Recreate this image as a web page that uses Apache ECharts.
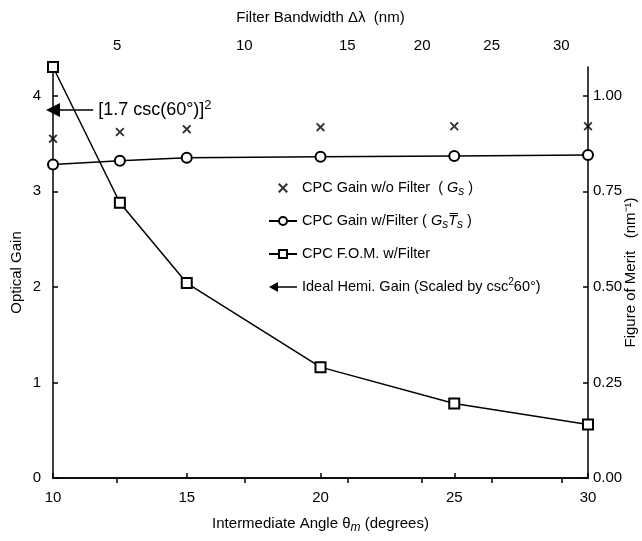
<!DOCTYPE html>
<html>
<head>
<meta charset="utf-8">
<script src="https://cdn.jsdelivr.net/npm/echarts@6/dist/echarts.min.js"></script>
<style>
html,body{margin:0;padding:0;background:#fff;}
#chart{width:642px;height:541px;}
</style>
</head>
<body>
<div id="chart"></div>
<script>
// ---- data ----
const angles = [10, 12.5, 15, 20, 25, 30];
const gainNoFilter = [3.55, 3.62, 3.65, 3.67, 3.68, 3.68];
const gainWithFilter = [3.28, 3.32, 3.35, 3.36, 3.37, 3.38];
const fomWithFilter = [1.075, 0.72, 0.51, 0.29, 0.195, 0.14];
const idealHemiGain = 3.85;
const idealArrowEndAngle = 11.5;
const topTickAngles = [12.4, 17.15, 21.0, 23.8, 26.4, 29.0];
const topTickLabels = ['5', '10', '15', '20', '25', '30'];
const seriesNames = ['CPC Gain w/o Filter', 'CPC Gain w/Filter', 'CPC F.O.M. w/Filter', 'Ideal Hemi. Gain'];
const legendLabels = [
  'CPC Gain w/o Filter  ( {it|G}{sub|s} )',
  'CPC Gain w/Filter ( {it|G}{sub|s}{it|T\u0305}{sub|s} )',
  'CPC F.O.M. w/Filter',
  'Ideal Hemi. Gain (Scaled by csc{sup|2}60°)'
];
const arrowLabel = '[1.7 csc(60°)]{sup|2}';

const FONT = '"Liberation Sans", Arial, Helvetica, sans-serif';
const crossPath = 'path://M0,1.5L1.5,0L5,3.5L8.5,0L10,1.5L6.5,5L10,8.5L8.5,10L5,6.5L1.5,10L0,8.5L3.5,5Z';
const arrowIcon = 'path://M0,5L9,0L9,4.2L28,4.2L28,5.8L9,5.8L9,10Z';

const richStyles = {
  it: {fontStyle: 'italic', fontSize: 14.5, fontFamily: FONT, color: '#000', lineHeight: 20},
  sub: {fontStyle: 'italic', fontSize: 12, fontFamily: FONT, color: '#000', lineHeight: 20, verticalAlign: 'bottom'},
  sup: {fontSize: 10, fontFamily: FONT, color: '#000', lineHeight: 20, verticalAlign: 'top'}
};

const chart = echarts.init(document.getElementById('chart'), null, {renderer: 'canvas'});
const axisLineStyle = {color: '#000', width: 1.5};

const option = {
  animation: false,
  backgroundColor: '#fff',
  textStyle: {fontFamily: FONT, color: '#000'},
  grid: {left: 53, right: 54, top: 67, bottom: 63, containLabel: false, outerBoundsMode: 'none'},
  legend: {
    orient: 'vertical',
    left: 263,
    top: 173,
    itemWidth: 28,
    itemHeight: 10,
    itemGap: 13,
    selectedMode: false,
    textStyle: {fontSize: 14.5, fontFamily: FONT, color: '#000', lineHeight: 20, rich: richStyles},
    formatter: function (name) { return legendLabels[seriesNames.indexOf(name)]; },
    data: [
      {name: seriesNames[0], icon: crossPath},
      {name: seriesNames[1]},
      {name: seriesNames[2]},
      {name: seriesNames[3], icon: arrowIcon}
    ]
  },
  xAxis: [
    {
      type: 'value', position: 'bottom', min: 10, max: 30, interval: 5,
      name: 'Intermediate Angle θ{sub|m} (degrees)',
      nameLocation: 'middle', nameGap: 36, nameMoveOverlap: false,
      nameTextStyle: {fontSize: 15, fontFamily: FONT, color: '#000',
        rich: {sub: {fontStyle: 'italic', fontSize: 12, fontFamily: FONT, color: '#000', padding: [8, 0, 0, 0]}}},
      axisLine: {lineStyle: axisLineStyle},
      axisTick: {inside: true, length: 5, lineStyle: axisLineStyle},
      axisLabel: {fontSize: 15, color: '#000', margin: 12},
      splitLine: {show: false}
    },
    {
      type: 'value', position: 'top', min: 10, max: 30,
      name: 'Filter Bandwidth Δλ  (nm)',
      nameLocation: 'middle', nameGap: 42, nameMoveOverlap: false,
      nameTextStyle: {fontSize: 15, fontFamily: FONT, color: '#000'},
      axisLine: {lineStyle: axisLineStyle},
      axisTick: {inside: true, length: 5, lineStyle: axisLineStyle, customValues: topTickAngles},
      axisLabel: {fontSize: 15, color: '#000', margin: 14, customValues: topTickAngles,
        formatter: function (v) {
          const i = topTickAngles.findIndex(a => Math.abs(a - v) < 1e-6);
          return i >= 0 ? topTickLabels[i] : '';
        }},
      splitLine: {show: false}
    }
  ],
  yAxis: [
    {
      type: 'value', position: 'left', min: 0, max: 4.3, interval: 1,
      name: 'Optical Gain', nameLocation: 'middle', nameGap: 29, nameRotate: 90, nameMoveOverlap: false,
      nameTextStyle: {fontSize: 15, fontFamily: FONT, color: '#000'},
      axisLine: {show: true, lineStyle: axisLineStyle},
      axisTick: {show: true, inside: true, length: 5, lineStyle: axisLineStyle},
      axisLabel: {fontSize: 15, color: '#000', margin: 12, showMaxLabel: false},
      splitLine: {show: false}
    },
    {
      type: 'value', position: 'right', min: 0, max: 1.075, interval: 0.25,
      name: 'Figure of Merit   (nm⁻¹)', nameLocation: 'middle', nameGap: 35, nameRotate: 90, nameMoveOverlap: false,
      nameTextStyle: {fontSize: 15, fontFamily: FONT, color: '#000'},
      axisLine: {show: true, lineStyle: axisLineStyle},
      axisTick: {show: true, inside: true, length: 5, lineStyle: axisLineStyle},
      axisLabel: {fontSize: 15, color: '#000', margin: 5, showMaxLabel: false,
        formatter: function (v) { return v.toFixed(2); }},
      splitLine: {show: false}
    }
  ],
  series: [
    {
      name: seriesNames[0], type: 'scatter', xAxisIndex: 0, yAxisIndex: 0,
      symbol: crossPath, symbolSize: 9,
      itemStyle: {color: '#000'},
      data: angles.map((a, i) => [a, gainNoFilter[i]]),
      clip: false, z: 5
    },
    {
      name: seriesNames[1], type: 'line', xAxisIndex: 0, yAxisIndex: 0,
      symbol: 'emptyCircle', symbolSize: 10,
      lineStyle: {color: '#000', width: 1.5},
      itemStyle: {color: '#000', borderWidth: 1.5},
      data: angles.map((a, i) => [a, gainWithFilter[i]]),
      clip: false, z: 4
    },
    {
      name: seriesNames[2], type: 'line', xAxisIndex: 0, yAxisIndex: 1,
      symbol: 'emptyRect', symbolSize: 10,
      lineStyle: {color: '#000', width: 1.5},
      itemStyle: {color: '#000', borderWidth: 1.5},
      data: angles.map((a, i) => [a, fomWithFilter[i]]),
      clip: false, z: 4
    },
    {
      name: seriesNames[3], type: 'line', xAxisIndex: 0, yAxisIndex: 0,
      data: [],
      itemStyle: {color: '#000'},
      lineStyle: {color: '#000'},
      markLine: {
        silent: true,
        symbol: ['triangle', 'none'],
        symbolSize: 14,
        itemStyle: {color: '#000'},
        lineStyle: {color: '#000', width: 1.5, type: 'solid'},
        label: {show: true, position: 'end', distance: 5, formatter: arrowLabel,
          fontSize: 18, fontFamily: FONT, color: '#000',
          rich: {sup: {fontSize: 13, fontFamily: FONT, color: '#000', padding: [0, 0, 9, 0]}}},
        data: [[{coord: [10, idealHemiGain]}, {coord: [idealArrowEndAngle, idealHemiGain]}]]
      }
    }
  ]
};
chart.setOption(option);
</script>
</body>
</html>
